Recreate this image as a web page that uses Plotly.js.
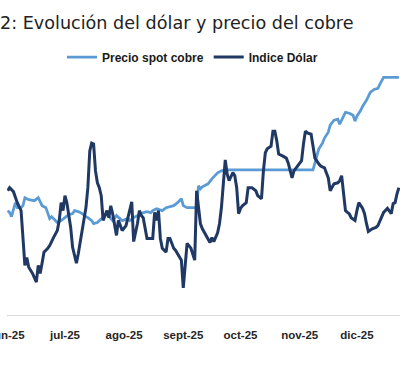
<!DOCTYPE html>
<html>
<head>
<meta charset="utf-8">
<script src="https://cdn.plot.ly/plotly-3.0.1.min.js"></script>
<style>html,body{margin:0;padding:0;background:#fff;}#chart{width:400px;height:370px;}</style>
</head>
<body>
<div id="chart"></div>
<script>
// Chart title
const chartTitle = '2: Evolución del dólar y precio del cobre';

// Tick labels (month starts)
const tickDates = ['2025-06-01','2025-07-01','2025-08-01','2025-09-01','2025-10-01','2025-11-01','2025-12-01'];
const tickLabels = ['jun-25','jul-25','ago-25','sept-25','oct-25','nov-25','dic-25'];

// Precio spot cobre (US$/t)
const cobreDates = ['2025-06-01','2025-06-02','2025-06-03','2025-06-04','2025-06-05','2025-06-06','2025-06-08','2025-06-09','2025-06-10','2025-06-12','2025-06-14','2025-06-15','2025-06-17','2025-06-18','2025-06-19','2025-06-21','2025-06-22','2025-06-23','2025-06-24','2025-06-26','2025-06-27','2025-06-29',
'2025-07-01','2025-07-03','2025-07-05','2025-07-06','2025-07-08','2025-07-10','2025-07-12','2025-07-13','2025-07-15','2025-07-16','2025-07-18','2025-07-19','2025-07-21','2025-07-23','2025-07-25','2025-07-26','2025-07-28','2025-07-30','2025-07-31',
'2025-08-03','2025-08-04','2025-08-06','2025-08-08','2025-08-09','2025-08-11','2025-08-13','2025-08-15','2025-08-16','2025-08-18','2025-08-20','2025-08-21','2025-08-23','2025-08-25','2025-08-27','2025-08-29','2025-08-30','2025-08-31',
'2025-09-01','2025-09-03','2025-09-05','2025-09-06','2025-09-08','2025-09-09','2025-09-10','2025-09-11','2025-09-13','2025-09-14','2025-09-16','2025-09-18','2025-09-19','2025-09-21','2025-09-23',
'2025-10-01','2025-10-17','2025-10-29','2025-11-08','2025-11-10','2025-11-11','2025-11-13','2025-11-14','2025-11-16','2025-11-17','2025-11-19','2025-11-21','2025-11-22','2025-11-24','2025-11-25','2025-11-27','2025-11-29','2025-11-30',
'2025-12-01','2025-12-03','2025-12-04','2025-12-06','2025-12-08','2025-12-10','2025-12-12','2025-12-13','2025-12-15','2025-12-17','2025-12-23'];
const cobreValues = [9675,9645,9585,9705,9795,9720,9720,9750,9870,9840,9825,9825,9870,9795,9750,9720,9645,9555,9585,9525,9495,9525,
9570,9615,9630,9675,9660,9630,9585,9570,9525,9480,9495,9525,9570,9630,9555,9525,9600,9555,9525,
9555,9525,9570,9600,9630,9645,9660,9645,9675,9705,9690,9675,9720,9735,9750,9795,9825,9855,
9750,9720,9720,9720,9720,10050,10005,10035,10065,10080,10155,10215,10245,10275,10290,
10290,10290,10290,10290,10500,10605,10695,10770,10860,10965,11040,11055,10980,11085,11160,11145,11115,11025,
11100,11190,11250,11340,11460,11505,11520,11580,11685,11685,11685];

// Indice Dólar
const dolarDates = ['2025-06-01','2025-06-02','2025-06-04','2025-06-05','2025-06-06','2025-06-08','2025-06-09','2025-06-10','2025-06-11','2025-06-12','2025-06-14','2025-06-15','2025-06-16','2025-06-17','2025-06-18','2025-06-19','2025-06-20','2025-06-22','2025-06-23','2025-06-25','2025-06-27','2025-06-28','2025-06-29','2025-06-30',
'2025-07-01','2025-07-02','2025-07-04','2025-07-05','2025-07-07','2025-07-08','2025-07-10','2025-07-12','2025-07-13','2025-07-14','2025-07-15','2025-07-16','2025-07-17','2025-07-18','2025-07-19','2025-07-20','2025-07-21','2025-07-23','2025-07-24','2025-07-25','2025-07-26','2025-07-28','2025-07-29','2025-07-31',
'2025-08-02','2025-08-03','2025-08-05','2025-08-06','2025-08-08','2025-08-09','2025-08-10','2025-08-11','2025-08-13','2025-08-16','2025-08-17','2025-08-18','2025-08-19','2025-08-20','2025-08-21','2025-08-23','2025-08-24','2025-08-25','2025-08-27','2025-08-28','2025-08-30','2025-08-31',
'2025-09-01','2025-09-02','2025-09-03','2025-09-05','2025-09-06','2025-09-07','2025-09-08','2025-09-10','2025-09-11','2025-09-13','2025-09-15','2025-09-16','2025-09-17','2025-09-19','2025-09-20','2025-09-21','2025-09-22','2025-09-23','2025-09-24','2025-09-25','2025-09-27','2025-09-28','2025-09-29','2025-09-30',
'2025-10-01','2025-10-02','2025-10-04','2025-10-05','2025-10-07','2025-10-09','2025-10-10','2025-10-12','2025-10-13','2025-10-14','2025-10-15','2025-10-17','2025-10-18','2025-10-19','2025-10-20','2025-10-21','2025-10-23','2025-10-25','2025-10-26','2025-10-27','2025-10-28','2025-10-29','2025-10-31',
'2025-11-01','2025-11-02','2025-11-03','2025-11-04','2025-11-05','2025-11-07','2025-11-08','2025-11-09','2025-11-11','2025-11-12','2025-11-14','2025-11-15','2025-11-16','2025-11-17','2025-11-19','2025-11-21','2025-11-22','2025-11-23','2025-11-24','2025-11-25','2025-11-26','2025-11-27','2025-11-28','2025-11-30',
'2025-12-01','2025-12-02','2025-12-04','2025-12-05','2025-12-06','2025-12-07','2025-12-09','2025-12-11','2025-12-12','2025-12-14','2025-12-15','2025-12-17','2025-12-19','2025-12-20','2025-12-21','2025-12-22','2025-12-23'];
const dolarValues = [98.85,98.92,98.83,98.69,98.58,98.40,97.73,97.16,97.34,97.12,96.98,96.87,96.78,97.16,96.98,97.21,97.46,97.55,97.61,97.79,97.95,98.18,98.58,98.40,
98.74,98.58,98.02,97.57,97.21,97.43,97.95,98.47,98.92,99.75,99.93,99.91,99.30,99.03,98.92,98.74,98.18,98.40,98.24,98.51,98.33,97.84,98.18,97.95,
98.06,98.24,98.60,97.70,98.11,98.40,98.29,98.24,97.77,97.77,98.36,98.18,98.40,97.77,97.55,97.46,97.77,97.77,97.55,97.50,97.34,97.28,
96.65,97.23,97.66,97.55,97.43,97.28,98.85,98.10,97.99,97.84,97.68,97.79,97.70,97.90,98.11,98.47,99.01,99.55,99.23,99.08,99.26,99.19,98.92,98.33,
98.45,98.51,98.58,98.92,98.92,98.85,98.74,98.67,99.30,99.71,99.80,99.86,100.20,100.20,99.98,99.68,99.64,99.59,99.48,99.30,99.14,99.30,99.41,
99.48,99.53,99.91,100.20,100.16,100.13,99.86,99.59,99.46,99.41,99.37,99.26,99.14,98.85,99.01,99.03,99.08,99.19,98.78,98.40,98.36,98.33,98.24,98.18,
98.40,98.58,98.45,98.33,98.11,97.93,97.99,98.02,98.06,98.24,98.36,98.45,98.33,98.56,98.58,98.78,98.92];

const traces = [
  {x: cobreDates, y: cobreValues, name: 'Precio spot cobre', type: 'scatter', mode: 'lines',
   line: {color: '#5b9bd5', width: 2.75}, yaxis: 'y'},
  {x: dolarDates, y: dolarValues, name: 'Indice Dólar', type: 'scatter', mode: 'lines',
   line: {color: '#1f3864', width: 3}, yaxis: 'y2'}
];

const layout = {
  width: 400, height: 370,
  margin: {l: 7, r: 0, t: 70, b: 55, pad: 0},
  paper_bgcolor: '#ffffff', plot_bgcolor: '#ffffff',
  annotations: [{text: chartTitle, xref: 'paper', yref: 'paper', x: -9/393, xanchor: 'left',
                 y: 1 + 49/245, yanchor: 'middle', showarrow: false,
                 font: {family: 'DejaVu Sans', size: 17.6, color: '#222222'}}],
  showlegend: true,
  legend: {orientation: 'h', xref: 'container', yref: 'container', x: 0.155, xanchor: 'left', y: 1 - 57/370, yanchor: 'middle',
           font: {family: 'Liberation Sans', size: 12, color: '#1a1a1a', weight: 'bold'}, itemwidth: 30, traceorder: 'normal'},
  xaxis: {type: 'date', range: ['2025-05-31 15:00', '2025-12-23 14:00'], tickvals: tickDates, ticktext: tickLabels,
          showgrid: false, zeroline: false, showline: true, linecolor: '#d9d9d9', linewidth: 1, ticks: '',
          ticklabelstandoff: 9, ticklabeloverflow: 'allow',
          tickfont: {family: 'Liberation Sans', size: 11.5, color: '#262626', weight: 'bold'}},
  yaxis: {range: [8100, 11775], visible: false, showgrid: false, zeroline: false},
  yaxis2: {range: [96.0375, 101.55], overlaying: 'y', side: 'right', visible: false, showgrid: false, zeroline: false}
};

Plotly.newPlot('chart', traces, layout, {displayModeBar: false, staticPlot: true});
</script>
</body>
</html>
